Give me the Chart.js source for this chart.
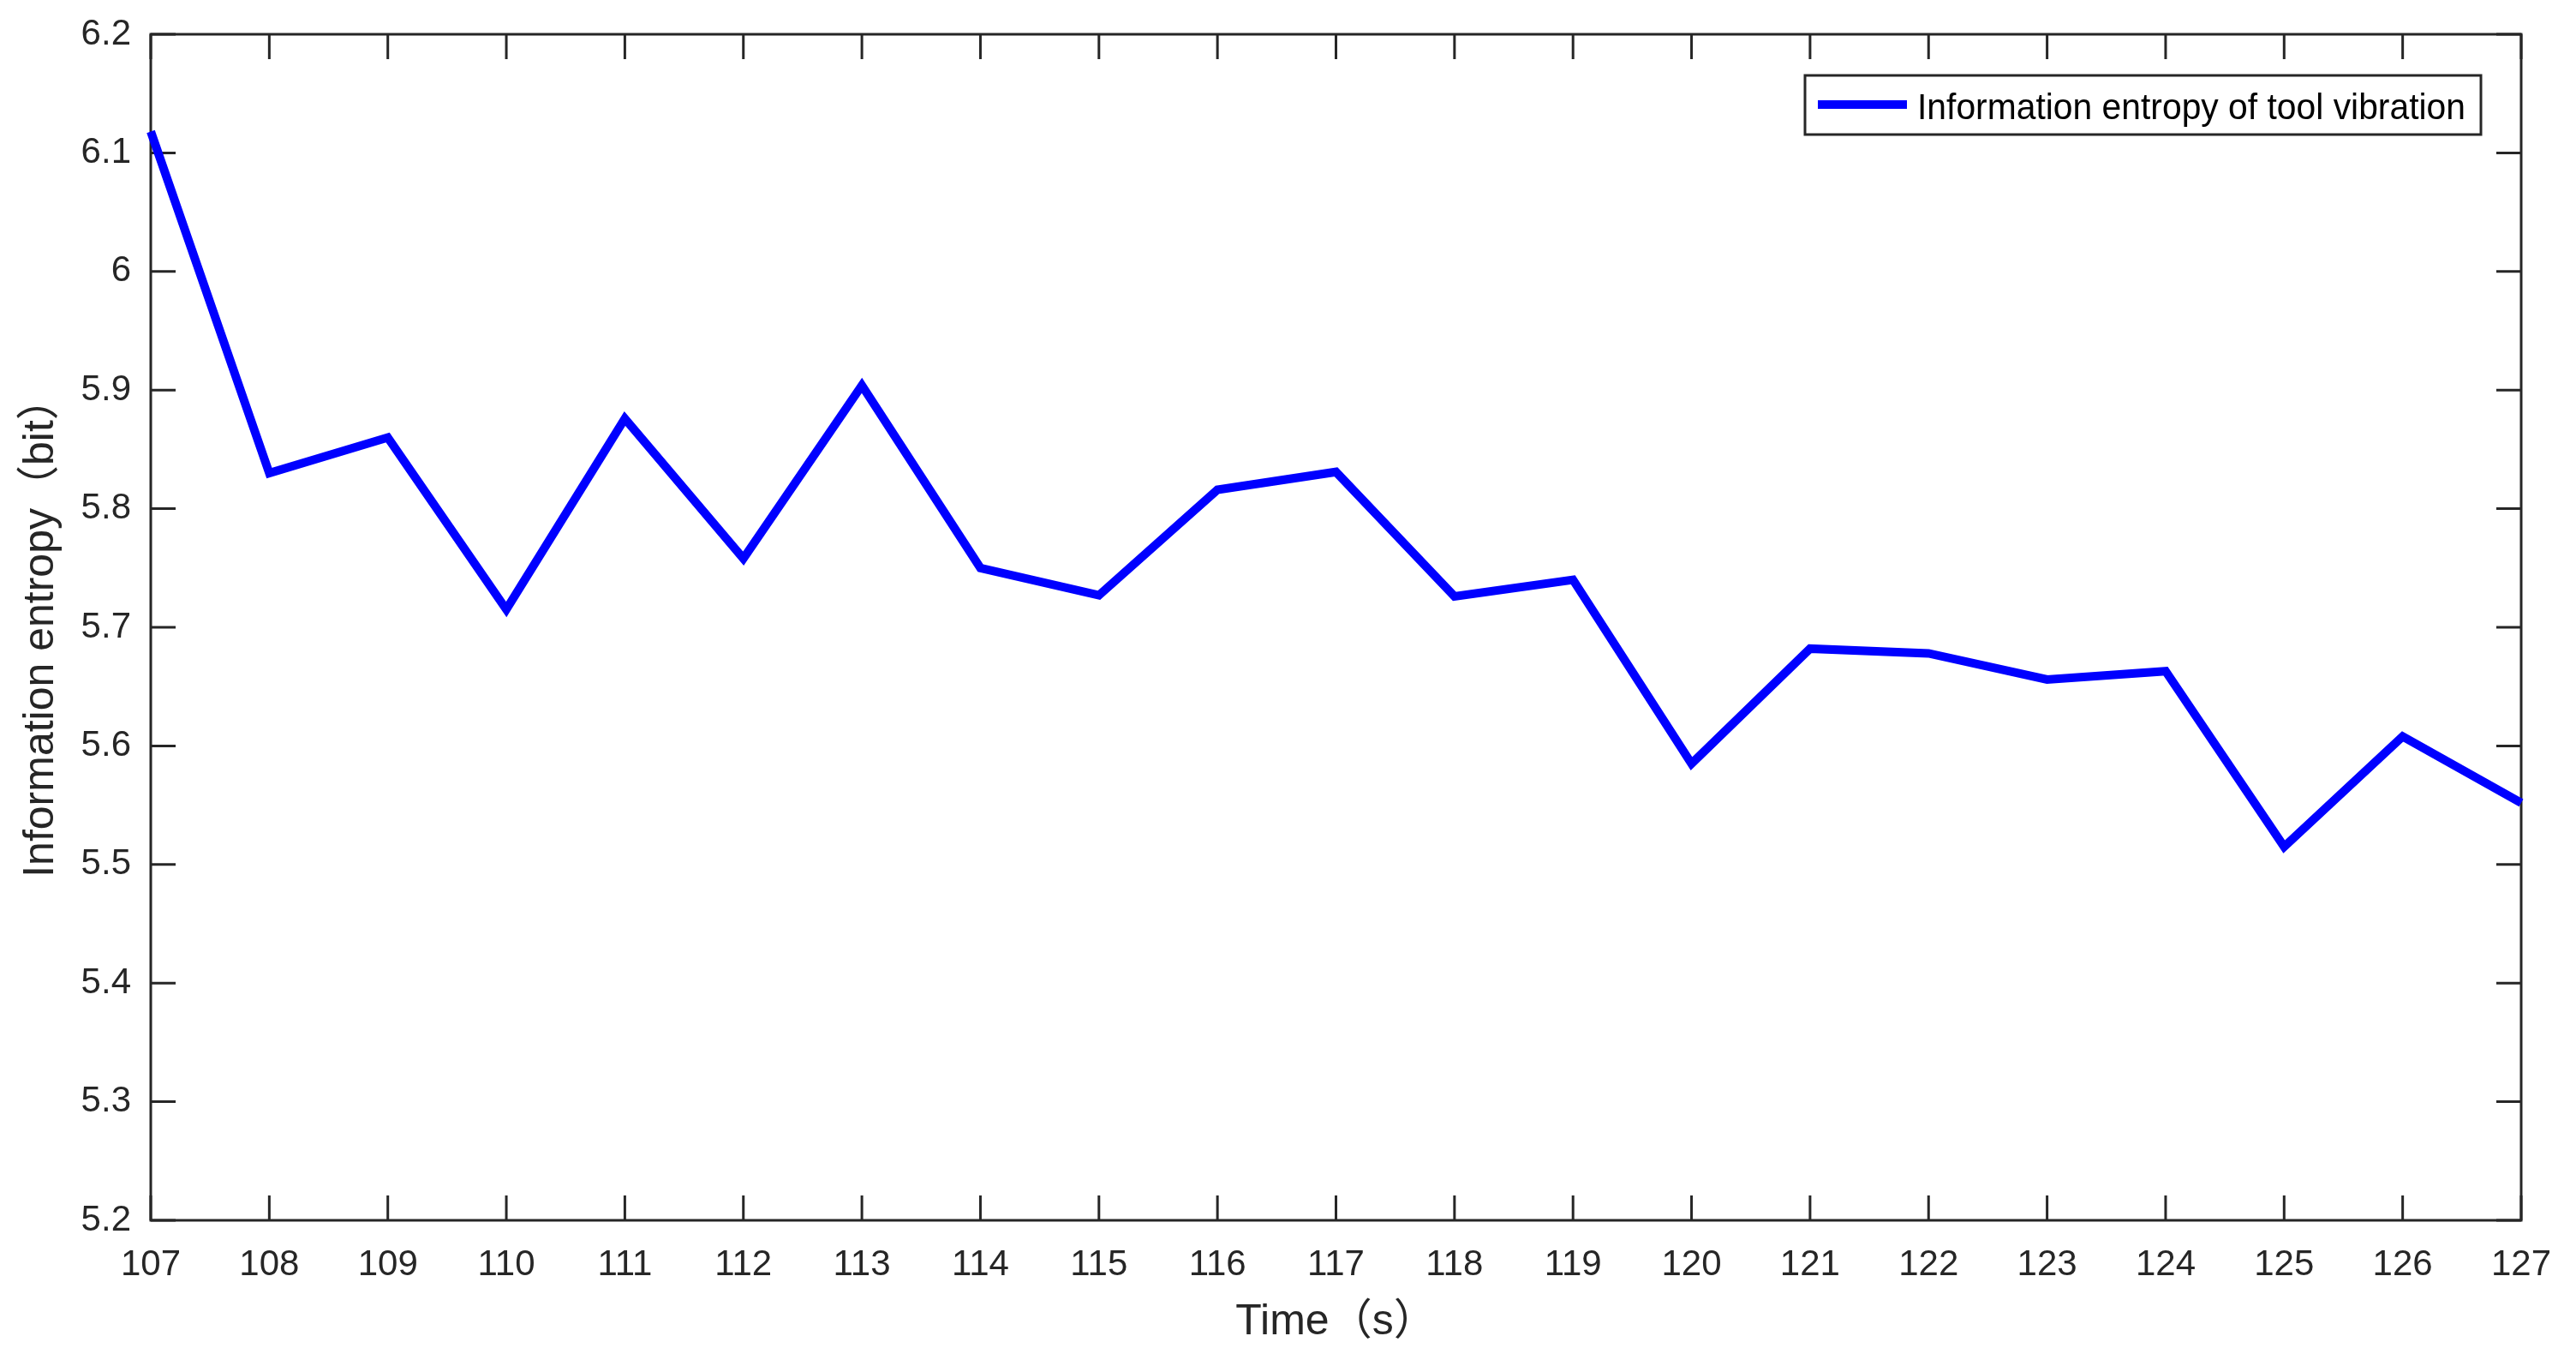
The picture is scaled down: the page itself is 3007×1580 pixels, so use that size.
<!DOCTYPE html>
<html>
<head>
<meta charset="utf-8">
<script src="https://cdn.jsdelivr.net/npm/chart.js@4.4.0/dist/chart.umd.min.js"></script>
<style>
    body { margin: 0; background: #ffffff; }
    #wrap { width: 3007px; height: 1580px; position: relative; }
</style>
</head>
<body>
<div id="wrap"><canvas id="myChart"></canvas></div>
<script>
// Data
const times = [107, 108, 109, 110, 111, 112, 113, 114, 115, 116, 117,
    118, 119, 120, 121, 122, 123, 124, 125, 126, 127];
const entropy = [6.118, 5.830, 5.860, 5.715, 5.876, 5.758, 5.904, 5.750, 5.727, 5.816, 5.831,
    5.726, 5.740, 5.585, 5.682, 5.678, 5.656, 5.663, 5.515, 5.608, 5.552];
const yTickLabels = ['5.2', '5.3', '5.4', '5.5', '5.6', '5.7', '5.8', '5.9', '6', '6.1', '6.2'];
const seriesName = 'Information entropy of tool vibration';

const axisColor = '#262626';
const tickFont = { family: 'Arial, "Liberation Sans", sans-serif', size: 42 };
const titleFont = { family: 'Arial, "Liberation Sans", "Noto Sans CJK SC", sans-serif', size: 50 };

// Box round the plot and inward ticks on all four sides
const boxPlugin = {
    id: 'box',
    beforeDatasetsDraw(chart) {
        const c = chart.ctx;
        const a = chart.chartArea;
        const xs = chart.scales.x;
        const ys = chart.scales.y;
        const len = 29;
        c.save();
        c.strokeStyle = axisColor;
        c.lineWidth = 3;
        c.beginPath();
        xs.ticks.forEach(t => {
            const px = xs.getPixelForValue(t.value);
            c.moveTo(px, a.bottom); c.lineTo(px, a.bottom - len);
            c.moveTo(px, a.top); c.lineTo(px, a.top + len);
        });
        ys.ticks.forEach(t => {
            const py = ys.getPixelForValue(t.value);
            c.moveTo(a.left, py); c.lineTo(a.left + len, py);
            c.moveTo(a.right, py); c.lineTo(a.right - len, py);
        });
        c.stroke();
        c.strokeRect(a.left, a.top, a.right - a.left, a.bottom - a.top);
        c.restore();
    }
};

// Legend box like the MATLAB one
const legendPlugin = {
    id: 'matLegend',
    afterDraw(chart) {
        const c = chart.ctx;
        const a = chart.chartArea;
        const x0 = a.right - 836;
        const y0 = a.top + 48;
        const w = 789;
        const h = 69;
        c.save();
        c.fillStyle = '#ffffff';
        c.fillRect(x0, y0, w, h);
        c.strokeStyle = axisColor;
        c.lineWidth = 3;
        c.strokeRect(x0, y0, w, h);

        c.strokeStyle = '#0000ff';
        c.lineWidth = 10;
        c.beginPath();
        c.moveTo(x0 + 15, y0 + 34);
        c.lineTo(x0 + 119, y0 + 34);
        c.stroke();

        c.font = '42px Arial, "Liberation Sans", sans-serif';
        c.fillStyle = '#000000';
        c.textBaseline = 'alphabetic';
        const tw = c.measureText(seriesName).width;
        const sx = 640 / tw;
        c.translate(x0 + 131, y0 + 51);
        c.scale(sx, 1);
        c.fillText(seriesName, 0, 0);
        c.restore();
    }
};

const ctx = document.getElementById('myChart').getContext('2d');

const myChart = new Chart(ctx, {
    type: 'line',
    data: {
        datasets: [{
            label: seriesName,
            data: times.map((t, i) => ({ x: t, y: entropy[i] })),
            borderColor: '#0000ff',
            borderWidth: 10,
            pointRadius: 0,
            tension: 0,
            fill: false,
            clip: false
        }]
    },
    options: {
        responsive: true,
        maintainAspectRatio: false,
        animation: false,
        layout: { padding: { top: 40, right: 64, left: 0, bottom: 0 } },
        plugins: {
            legend: { display: false },
            tooltip: { enabled: false }
        },
        scales: {
            x: {
                type: 'linear',
                min: 107,
                max: 127,
                afterFit: s => {
                    s.height = 156;
                    s.paddingLeft = 0;
                    s.paddingRight = 0;
                },
                grid: { display: false, drawTicks: false },
                border: { display: false },
                ticks: {
                    stepSize: 1,
                    padding: 27,
                    color: axisColor,
                    font: tickFont,
                    maxRotation: 0,
                    callback: v => String(v)
                },
                title: {
                    display: true,
                    text: 'Time（s）',
                    color: axisColor,
                    font: titleFont,
                    padding: { top: 0, bottom: 7 }
                }
            },
            y: {
                min: 5.2,
                max: 6.2,
                afterFit: s => {
                    s.width = 176;
                    s.paddingTop = 0;
                    s.paddingBottom = 0;
                },
                grid: { display: false, drawTicks: false },
                border: { display: false },
                ticks: {
                    stepSize: 0.1,
                    padding: 23,
                    color: axisColor,
                    font: tickFont,
                    callback: (v, i) => yTickLabels[i]
                },
                title: {
                    display: true,
                    text: 'Information entropy（bit）',
                    color: axisColor,
                    font: titleFont,
                    padding: { top: 18, bottom: 0 }
                }
            }
        }
    },
    plugins: [boxPlugin, legendPlugin]
});
</script>
</body>
</html>
